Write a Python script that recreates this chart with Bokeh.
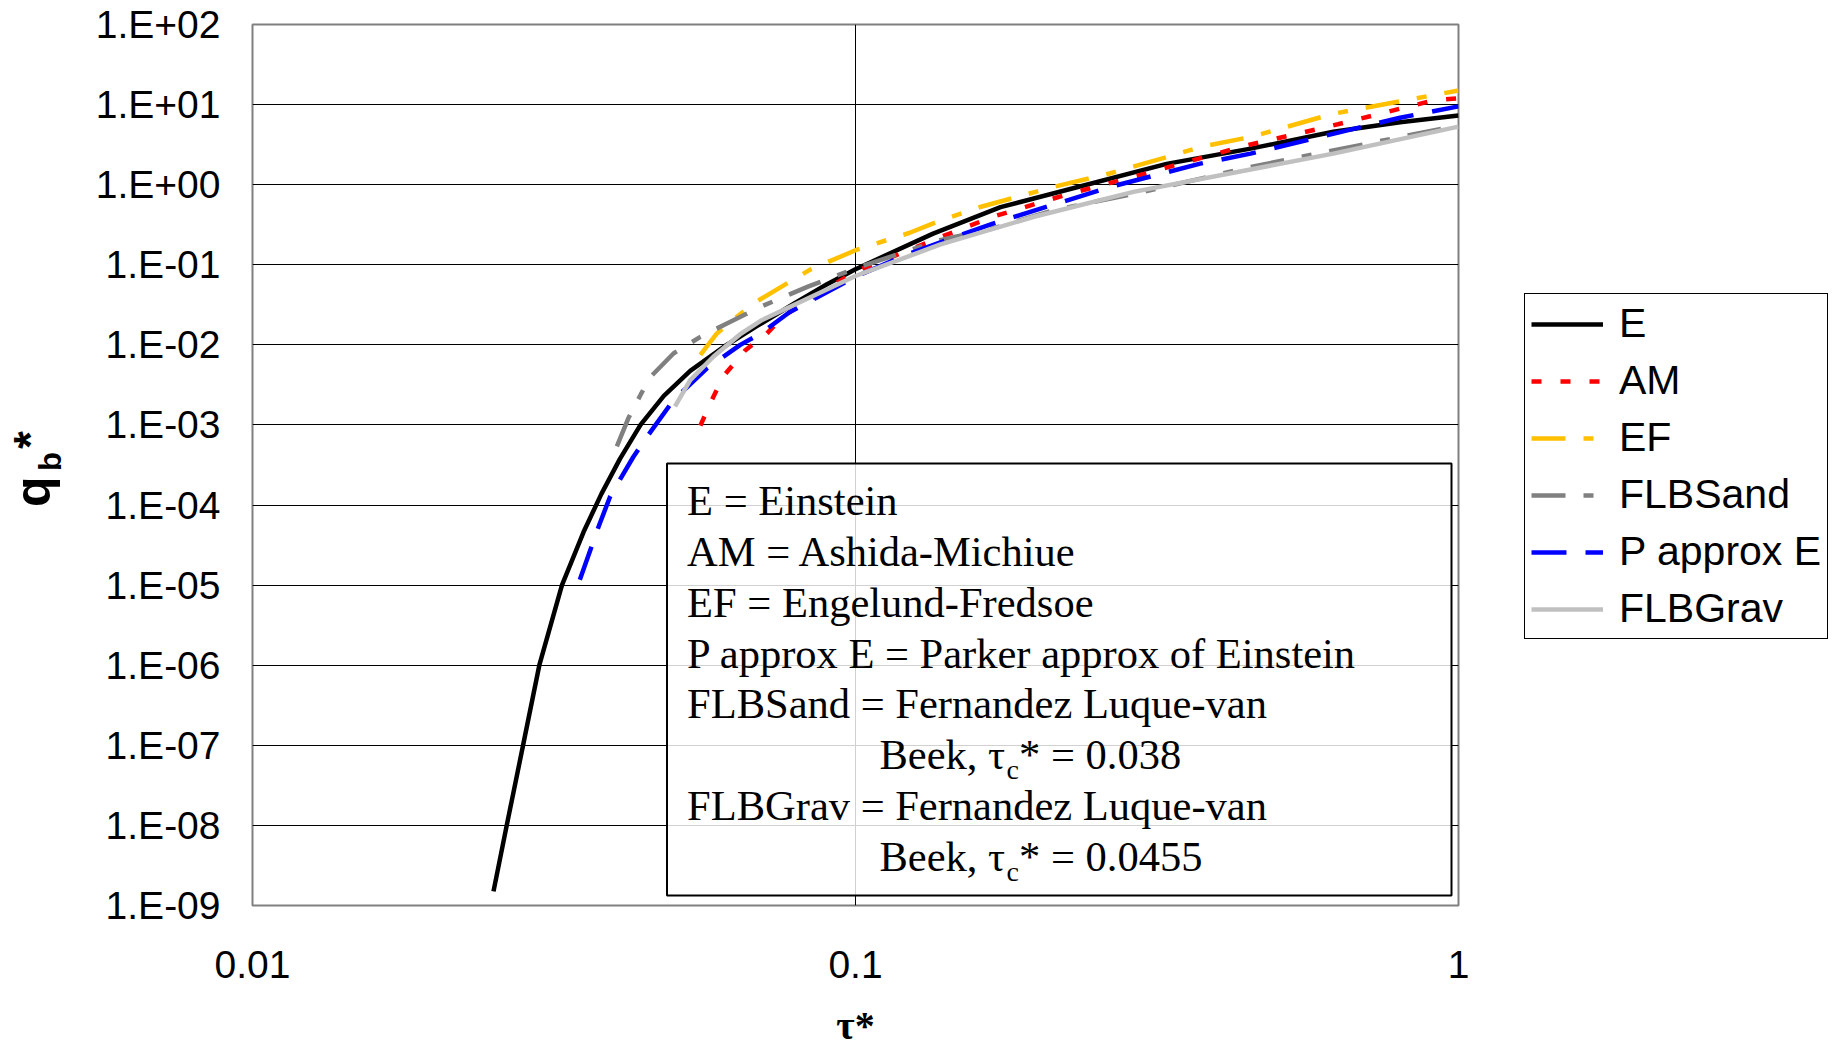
from bokeh.plotting import figure
from bokeh.layouts import row
from bokeh.models import Range1d, FixedTicker, Legend, LegendItem, Label, BoxAnnotation
from bokeh.core.properties import value
from bokeh.embed import file_html
from bokeh.resources import INLINE

# ---------------- data ----------------
tau_E = [0.0251, 0.0264, 0.0281, 0.0299, 0.0326, 0.0354, 0.0379, 0.0407, 0.044, 0.0481,
         0.0532, 0.0604, 0.0686, 0.0789, 0.0897, 0.1, 0.1345, 0.174, 0.239, 0.328, 0.452,
         0.62, 0.8, 1.0]
q_E = [1.5e-9, 1.0e-8, 1.0e-7, 1.0e-6, 1.0e-5, 4.6e-5, 1.38e-4, 3.8e-4, 1.0e-3, 2.31e-3,
       4.74e-3, 9.4e-3, 0.0171, 0.0324, 0.0571, 0.0881, 0.245, 0.525, 0.977, 1.82, 2.82,
       4.57, 6.03, 7.33]

tau_AM = [0.0553, 0.0581, 0.0604, 0.0656, 0.0713, 0.076, 0.1, 0.1142, 0.1264, 0.14,
          0.169, 0.227, 0.289, 0.354, 0.445, 0.605, 0.909, 1.0]
q_AM = [9.8e-4, 2.24e-3, 4.07e-3, 8.5e-3, 0.0139, 0.0229, 0.083, 0.123, 0.167, 0.229,
        0.398, 0.776, 1.25, 1.92, 3.09, 5.25, 11.3, 12.0]

tau_EF = [0.0553, 0.0589, 0.0628, 0.0678, 0.0841, 0.1, 0.1135, 0.123, 0.138, 0.161,
          0.2128, 0.264, 0.328, 0.373, 0.452, 0.62, 1.0]
q_EF = [7.5e-3, 0.0139, 0.0209, 0.0331, 0.087, 0.152, 0.207, 0.251, 0.355, 0.527,
        0.935, 1.38, 2.21, 2.95, 3.94, 7.69, 15.0]

tau_FLBSand = [0.0402, 0.042, 0.044, 0.0457, 0.0499, 0.0553, 0.0612, 0.0696, 0.0832, 0.1,
               0.138, 0.169, 0.2128, 0.3, 0.452, 1.0]
q_FLBSand = [5.4e-4, 1.21e-3, 2.37e-3, 3.98e-3, 7.8e-3, 0.0126, 0.0185, 0.0299, 0.053, 0.09,
             0.203, 0.284, 0.48, 0.813, 1.66, 5.5]

tau_PE = [0.0349, 0.0375, 0.0392, 0.0428, 0.0451, 0.0499, 0.0567, 0.0644, 0.0696, 0.0778,
          0.1, 0.1128, 0.123, 0.149, 0.169, 0.264, 0.373, 0.452, 0.8, 1.0]
q_PE = [1.17e-5, 5.4e-5, 1.29e-4, 3.98e-4, 7.1e-4, 2.04e-3, 5.1e-3, 0.01, 0.0138, 0.0257,
        0.0708, 0.105, 0.138, 0.234, 0.327, 0.933, 1.83, 2.44, 6.85, 9.5]

tau_FLBGrav = [0.0502, 0.0532, 0.0581, 0.0643, 0.0696, 0.1, 0.138, 0.1977, 0.289, 0.452, 0.62, 1.0]
q_FLBGrav = [1.7e-3, 3.63e-3, 7.1e-3, 0.0135, 0.02, 0.0724, 0.178, 0.398, 0.813, 1.55, 2.44, 5.31]

series_names = ["E", "AM", "EF", "FLBSand", "P approx E", "FLBGrav"]

y_ticks = [1e-9, 1e-8, 1e-7, 1e-6, 1e-5, 1e-4, 1e-3, 1e-2, 1e-1, 1e0, 1e1, 1e2]
y_tick_labels = ["1.E-09", "1.E-08", "1.E-07", "1.E-06", "1.E-05", "1.E-04",
                 "1.E-03", "1.E-02", "1.E-01", "1.E+00", "1.E+01", "1.E+02"]
x_ticks = [0.01, 0.1, 1]
x_tick_labels = ["0.01", "0.1", "1"]

note_lines = ["E = Einstein", "AM = Ashida-Michiue", "EF = Engelund-Fredsoe",
              "P approx E = Parker approx of Einstein", "FLBSand = Fernandez Luque-van",
              None, "FLBGrav = Fernandez Luque-van", None]
tauc_values = ["0.038", "0.0455"]

# ---------------- layout ----------------
W, H = 1833, 1050
WL = 70                               # left strip (y title)
PR = 1478                             # page x where the main figure ends
FL, FR, FT, FB = 252, 1458, 24, 906   # frame edges in page pixels
BL = 0.33                             # baseline correction (em)
LEG_L, LEG_B = 1524, 640              # legend box left / bottom (page pixels)


def sx(X):
    return X - FL


def sy(Y):
    return FB - Y


p = figure(width=PR - WL, height=H, x_axis_type="log", y_axis_type="log",
           x_range=Range1d(0.01, 1), y_range=Range1d(1e-9, 1e2),
           output_backend="svg", toolbar_location=None,
           min_border_left=FL - WL, min_border_right=PR - FR,
           min_border_top=FT, min_border_bottom=H - FB)
p.background_fill_color = "white"
p.border_fill_color = "white"
p.outline_line_color = "#808080"
p.outline_line_width = 2

for ax in (p.xaxis[0], p.yaxis[0]):
    ax.axis_line_color = None
    ax.major_tick_line_color = None
    ax.minor_tick_line_color = None
    ax.major_tick_out = 0
    ax.major_tick_in = 0
    ax.minor_tick_out = 0
    ax.minor_tick_in = 0
    ax.major_label_text_font = "Liberation Sans"
    ax.major_label_text_font_size = "39px"
    ax.major_label_text_color = "black"

p.yaxis.ticker = FixedTicker(ticks=y_ticks)
p.yaxis.major_label_overrides = {t: l for t, l in zip(y_ticks, y_tick_labels)}
p.yaxis.major_label_standoff = 32
p.xaxis.ticker = FixedTicker(ticks=x_ticks)
p.xaxis.major_label_overrides = {t: l for t, l in zip(x_ticks, x_tick_labels)}
p.xaxis.major_label_standoff = 45
p.xaxis.axis_label = "\u03c4*"
p.xaxis.axis_label_text_font = "Liberation Serif"
p.xaxis.axis_label_text_font_style = "bold"
p.xaxis.axis_label_text_font_size = "40px"
p.xaxis.axis_label_text_color = "black"
p.xaxis.axis_label_standoff = 22

p.ygrid.ticker = FixedTicker(ticks=y_ticks)
p.xgrid.ticker = FixedTicker(ticks=[0.1])
for g in (p.xgrid[0], p.ygrid[0]):
    g.grid_line_color = "#000000"
    g.grid_line_width = 1
    g.grid_line_alpha = 1.0

LW = 4.5
styles = [dict(line_color="#000000"),
          dict(line_color="#FF0000", line_dash="10 19"),
          dict(line_color="#FFC000", line_dash="34 18 10 18"),
          dict(line_color="#808080", line_dash="34 18 10 18"),
          dict(line_color="#0000FF", line_dash="35 19"),
          dict(line_color="#C0C0C0")]
series = [(tau_E, q_E), (tau_AM, q_AM), (tau_EF, q_EF),
          (tau_FLBSand, q_FLBSand), (tau_PE, q_PE), (tau_FLBGrav, q_FLBGrav)]
for (xs, ys), st in zip(series, styles):
    p.line(xs, ys, line_width=LW, line_join="round", **st)

# ---------------- note box ----------------
box = BoxAnnotation(left=sx(666.5), right=sx(1451), top=sy(464), bottom=sy(896),
                    left_units="screen", right_units="screen",
                    top_units="screen", bottom_units="screen",
                    fill_color="white", fill_alpha=0.82,
                    line_color="black", line_alpha=1.0, line_width=2)
p.add_layout(box)

FS = 42.5
base0 = 515.5
dline = 50.75
x_text = 686.6
x_indent = 879


def note_label(x, ybase, text, size):
    return Label(x=sx(x), y=sy(ybase - BL * size), x_units="screen", y_units="screen",
                 text=text, text_font="Liberation Serif", text_font_size=f"{size}px",
                 text_color="black", text_baseline="alphabetic", text_align="left")


ti = 0
for i, line in enumerate(note_lines):
    yb = base0 + i * dline
    if line is not None:
        p.add_layout(note_label(x_text, yb, line, FS))
    else:
        w1 = 2.99 * FS
        p.add_layout(note_label(x_indent, yb, "Beek, \u03c4", FS))
        p.add_layout(note_label(x_indent + w1, yb + 10, "c", 28))
        p.add_layout(note_label(x_indent + w1 + 12.5, yb, "* = " + tauc_values[ti], FS))
        ti += 1


def strip(width):
    # frames of a row are aligned with the main plot: page y runs FT..FB in the frame
    f = figure(width=width, height=H, x_range=Range1d(0, width), y_range=Range1d(FB, FT),
               output_backend="svg", toolbar_location=None,
               x_axis_location=None, y_axis_location=None,
               min_border=0, min_border_left=0, min_border_right=0,
               min_border_top=FT, min_border_bottom=H - FB)
    f.outline_line_color = None
    f.grid.visible = False
    f.background_fill_color = "white"
    f.border_fill_color = "white"
    return f


# ---------------- y title strip ----------------
t = strip(WL)


def ytitle(xbase, ystart, text, size):
    return Label(x=xbase - BL * size, y=ystart, text=text, angle=90, angle_units="deg",
                 text_font="Liberation Sans", text_font_style="bold",
                 text_font_size=f"{size}px", text_color="black",
                 text_align="left", text_baseline="alphabetic")


t.add_layout(ytitle(49, 507, "q", 50))
t.add_layout(ytitle(60, 471, "b", 31))
t.add_layout(ytitle(45, 449, "*", 46))

# ---------------- legend strip ----------------
r = strip(W - PR)
nan = float("nan")
proxies = [r.line([nan], [nan], line_width=LW, **st) for st in styles]
items = [LegendItem(label=value(n), renderers=[g]) for n, g in zip(series_names, proxies)]
legend = Legend(items=items, location=(LEG_L - PR, FB - LEG_B), orientation="vertical",
                border_line_color="black", border_line_width=1.5, border_line_alpha=1.0,
                background_fill_color="white", background_fill_alpha=1.0,
                label_text_font="Liberation Sans", label_text_font_size="41px",
                label_text_color="black",
                glyph_width=72, glyph_height=44, label_height=44,
                label_standoff=16, spacing=10, padding=6, margin=0)
r.add_layout(legend)

layout = row(t, p, r, spacing=0)
open("out.html", "w").write(file_html(layout, INLINE))
